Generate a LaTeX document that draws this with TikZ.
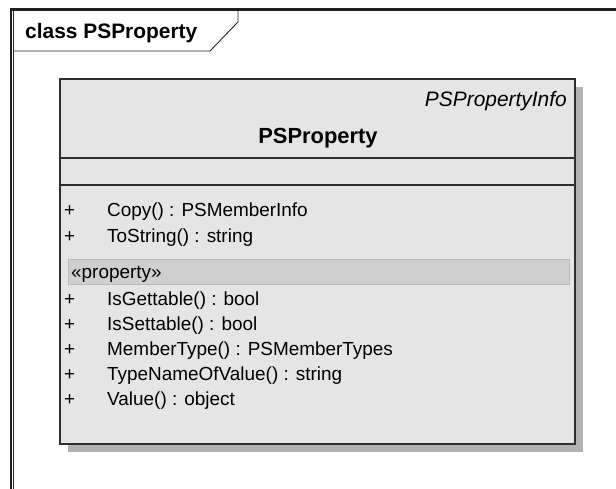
\documentclass[tikz,border=0pt]{standalone}
\usepackage{fontspec}
\setmainfont{Liberation Sans}
\usetikzlibrary{positioning}

\begin{document}
\begin{tikzpicture}[
    x=1bp, y=-1bp,
    frameline/.style={line width=2.6bp, black!88},
    thinline/.style={line width=0.9bp, black!85},
    classbox/.style={draw=black!82, line width=1.4bp, fill=black!10},
    shadowbox/.style={fill=black!30},
    stereoband/.style={fill=black!19, draw=black!27, line width=0.8bp},
    txt/.style={inner sep=0pt, font=\fontsize{19}{19}\selectfont},
    boldtxt/.style={inner sep=0pt, font=\fontsize{21}{21}\selectfont\bfseries},
    optxt/.style={txt, anchor=base west},
]

% page size
\useasboundingbox (0,0) rectangle (616,489);

% =========================
% DIAGRAM FRAME
% =========================
\draw[frameline] (616,9.5) -- (11,9.5) -- (11,489);
\draw[thinline] (13.5,11) -- (13.5,489);

% name tab
\draw[thinline] (238,11) -- (238,22) -- (210,51) -- (13.5,51);
\node[boldtxt, anchor=base west] (frametitle) at (25,39) {class PSProperty};

% =========================
% CLASS BOX
% =========================
\fill[shadowbox] (68,87) rectangle (583,452);
\draw[classbox] (60,79) rectangle (575,444);

% compartments
\draw[classbox] (60,158) -- (575,158);
\draw[classbox] (60,185) -- (575,185);

% header
\node[txt, font=\fontsize{21}{21}\selectfont\itshape, anchor=base east]
    (infotag) at (567,107) {PSPropertyInfo};
\node[boldtxt, font=\fontsize{22}{22}\selectfont\bfseries, anchor=base]
    (classname) at (318,144) {PSProperty};

% plain operations
\foreach \y/\op [count=\i] in {217/Copy() : PSMemberInfo,
                               243/ToString() : string} {
    \node[optxt] (plus\i) at (64,\y) {+};
    \node[optxt] (op\i) at (107,\y) {\op};
}

% property stereotype
\draw[stereoband] (68,259) rectangle (569,284);
\node[optxt] (stereo) at (71,278) {«property»};

% property operations
\foreach \y/\op [count=\i] in {305/IsGettable() : bool,
                               330/IsSettable() : bool,
                               355/MemberType() : PSMemberTypes,
                               380/TypeNameOfValue() : string,
                               405/Value() : object} {
    \node[optxt] (pplus\i) at (64,\y) {+};
    \node[optxt] (prop\i) at (107,\y) {\op};
}
\end{tikzpicture}
\end{document}
